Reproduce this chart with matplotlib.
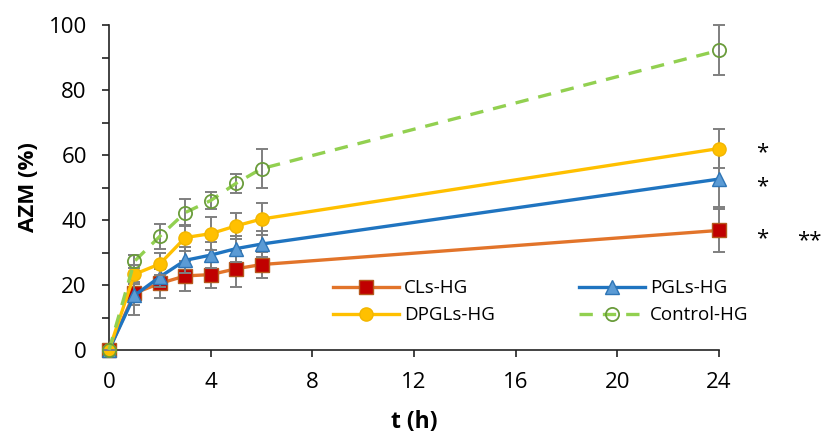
import matplotlib.pyplot as plt
from matplotlib.lines import Line2D
import numpy as np

plt.rcParams['font.family'] = ['Open Sans', 'DejaVu Sans']

# release time points (h)
t = [0, 1, 2, 3, 4, 5, 6, 24]

# cumulative AZM release (%) and error bars for each formulation
cls_hg = [0, 17.5, 20.5, 22.8, 23.2, 25.0, 26.3, 36.8]
cls_err = [0, 3.5, 4.5, 4.5, 4.2, 5.5, 4.0, 6.6]

pgls_hg = [0, 16.8, 22.5, 27.6, 29.2, 31.2, 32.6, 52.6]
pgls_err = [0, 6.0, 3.0, 4.0, 4.0, 4.0, 4.0, 8.5]

dpgls_hg = [0, 23.3, 26.5, 34.6, 35.8, 38.2, 40.3, 62.0]
dpgls_err = [0, 3.0, 3.5, 4.0, 5.0, 4.0, 5.0, 6.0]

control_hg = [0, 27.3, 35.0, 42.3, 46.0, 51.3, 55.8, 92.2]
control_err = [0, 2.0, 3.8, 4.2, 2.5, 3.0, 6.0, 7.7]

# significance marks to the right of the 24 h points
sig_x = [25.7, 25.7, 25.7, 27.55]
sig_y = [60.6, 50.2, 34.2, 33.6]
sig_txt = ['*', '*', '*', '**']

series = [
    # label, values, errors, line colour, line style, marker, face, edge, z
    ('CLs-HG', cls_hg, cls_err, '#e2742a', '-', 's', '#c00000', '#b5581d', 3),
    ('PGLs-HG', pgls_hg, pgls_err, '#1f74c0', '-', '^', '#5b9bd5', '#2e75b6', 4),
    ('DPGLs-HG', dpgls_hg, dpgls_err, '#ffc000', '-', 'o', '#ffc000', '#f2b600', 5),
    ('Control-HG', control_hg, control_err, '#92d050', (0, (4, 3)), 'o', 'none',
     '#6a9c3b', 6),
]

fig = plt.figure(figsize=(8.24, 4.34), dpi=100)
ax = fig.add_axes([0.1323, 0.1935, 0.7403, 0.7489])

handles = {}
for label, y, e, c, ls, m, fc, ec, z in series:
    ax.errorbar(t, y, yerr=e, fmt='none', ecolor='#7f7f7f', elinewidth=1.4,
                capsize=4.5, capthick=1.4, zorder=z - 0.5, clip_on=False)
    ms = 9.5 if m != '^' else 10.5
    ax.plot(t, y, color=c, lw=2.4, ls=ls, zorder=z, clip_on=False)
    ax.plot(t, y, ls='none', marker=m, ms=ms, mfc=fc, mec=ec,
            mew=1.3 if fc == 'none' else 1, zorder=z + 0.2, clip_on=False)
    handles[label] = Line2D([], [], color=c, lw=2.4, ls=ls, marker=m, ms=ms,
                            mfc=fc, mec=ec, mew=1.3 if fc == 'none' else 1)

for x, y, s in zip(sig_x, sig_y, sig_txt):
    ax.text(x, y, s, fontsize=16, ha='center', va='center', clip_on=False)

ax.set_xlim(0, 24)
ax.set_ylim(0, 100)
ax.set_xticks(np.arange(0, 25, 4))
ax.set_yticks(np.arange(0, 101, 20))
ax.set_yticks(np.arange(10, 100, 20), minor=True)

for side in ['top', 'right']:
    ax.spines[side].set_visible(False)
for side in ['left', 'bottom']:
    ax.spines[side].set_linewidth(1.2)
    ax.spines[side].set_color('#222222')
    ax.spines[side].set_zorder(1)

ax.tick_params(axis='both', which='both', direction='out', length=5,
               width=1.2, color='#222222', labelsize=16)
ax.tick_params(axis='y', which='both', pad=11)
ax.tick_params(axis='x', which='both', pad=11)

ax.set_xlabel('t (h)', fontsize=16.5, fontweight='bold', labelpad=12)
ax.set_ylabel('AZM (%)', fontsize=16, fontweight='bold', labelpad=7)

# two legend columns placed side by side
leg_kw = dict(frameon=False, fontsize=13.5, handlelength=3.5,
              handletextpad=0.27, labelspacing=0.47, borderpad=0,
              borderaxespad=0, loc='upper left',
              bbox_transform=fig.transFigure)
leg1 = fig.legend(handles=[handles['CLs-HG'], handles['DPGLs-HG']],
                  labels=['CLs-HG', 'DPGLs-HG'],
                  bbox_to_anchor=(0.4041, 0.356), **leg_kw)
leg2 = fig.legend(handles=[handles['PGLs-HG'], handles['Control-HG']],
                  labels=['PGLs-HG', 'Control-HG'],
                  bbox_to_anchor=(0.7027, 0.356), **leg_kw)

fig.savefig('out.png', dpi=100)
